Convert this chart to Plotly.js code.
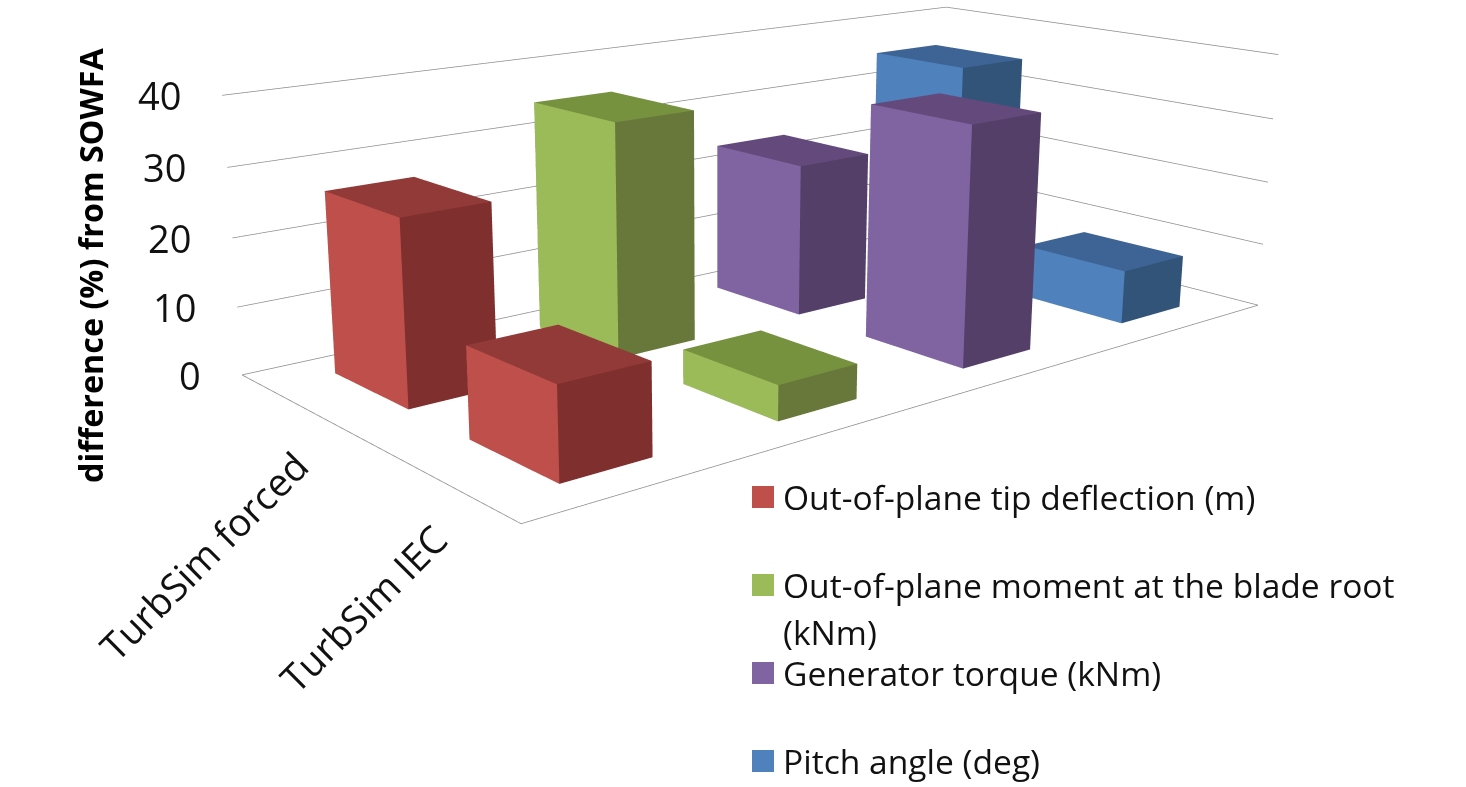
<!DOCTYPE html>
<html>
<head>
<meta charset="utf-8">
<script src="https://cdn.plot.ly/plotly-3.0.1.min.js"></script>
<style>
  html, body { margin: 0; padding: 0; background: #fff; overflow: hidden; width: 1466px; height: 787px; }
  /* The 45 degree scene camera needs a tall viewport, centred on the chart's optical axis. */
  #chart { position: absolute; left: 0; top: -508px; width: 1432px; height: 1616px; }
</style>
</head>
<body>
<div id="chart"></div>
<script>
// Categories run front to back along the depth axis
const categories = ['TurbSim IEC', 'TurbSim forced'];
const seriesNames = [
  'Out-of-plane tip deflection (m)',
  'Out-of-plane moment at the blade root<br>(kNm)',
  'Generator torque (kNm)',
  'Pitch angle (deg)'
];
const tipDeflection = [12.7, 26.5];
const bladeRootMoment = [5.05, 34.8];
const generatorTorque = [35.4, 23.65];
const pitchAngle = [8.3, 35.1];
const seriesValues = [tipDeflection, bladeRootMoment, generatorTorque, pitchAngle];
const valueTicks = [0, 10, 20, 30, 40];

// Face colours per series: left face, right face, top face
const leftFace = ['#BE4F4A', '#9BBB59', '#8064A2', '#4F81BD'];
const rightFace = ['#7F2F2E', '#67783A', '#533F68', '#325479'];
const topFace = ['#913A38', '#77923F', '#644A7C', '#3D6494'];

const barStart = 0.3, barEnd = 0.705;    // bar extent inside a series slot
const depthStart = 0.21, depthEnd = 0.78; // bar extent inside a category slot
const seriesCount = seriesValues.length;
const categoryCount = categories.length;
const valueMax = valueTicks[valueTicks.length - 1];

const traces = [];

// Wall and floor lines, drawn first so the bars hide them through depth testing
const gridX = [], gridY = [], gridZ = [];
valueTicks.forEach(v => {
  gridX.push(0, seriesCount, seriesCount, null);
  gridY.push(categoryCount, categoryCount, 0, null);
  gridZ.push(v, v, v, null);
});
gridX.push(0, 0, seriesCount);
gridY.push(categoryCount, 0, 0);
gridZ.push(0, 0, 0);
traces.push({
  type: 'scatter3d', mode: 'lines', x: gridX, y: gridY, z: gridZ,
  line: { color: '#8c8c8c', width: 1.5 }, connectgaps: false,
  hoverinfo: 'skip', showlegend: false
});

// One mesh per series, one box per category
seriesValues.forEach((values, s) => {
  const x = [], y = [], z = [], i = [], j = [], k = [], facecolor = [];
  values.forEach((v, c) => {
    const x0 = s + barStart, x1 = s + barEnd;
    const y0 = c + depthStart, y1 = c + depthEnd;
    const n = x.length;
    x.push(x0, x1, x1, x0, x0, x1, x1, x0);
    y.push(y0, y0, y1, y1, y0, y0, y1, y1);
    z.push(0, 0, 0, 0, v, v, v, v);
    const quad = (a, b, d, e, col) => {
      i.push(n + a, n + a); j.push(n + b, n + d); k.push(n + d, n + e);
      facecolor.push(col, col);
    };
    quad(0, 3, 7, 4, leftFace[s]);   // low-x side
    quad(0, 1, 5, 4, rightFace[s]);  // low-y side
    quad(4, 5, 6, 7, topFace[s]);    // top
    quad(1, 2, 6, 5, rightFace[s]);  // high-x side
    quad(3, 2, 6, 7, rightFace[s]);  // high-y side
    quad(0, 1, 2, 3, rightFace[s]);  // bottom
  });
  traces.push({
    type: 'mesh3d', name: seriesNames[s], x, y, z, i, j, k, facecolor,
    flatshading: true,
    lighting: { ambient: 1, diffuse: 0, specular: 0, roughness: 1, fresnel: 0 },
    hoverinfo: 'skip', showscale: false
  });
});

const textFont = '"Open Sans", Lato, sans-serif';
const W = 1432, H = 1616, topOffset = 508;
const px = v => v / W;
const py = v => 1 - (v + topOffset) / H;

// Value labels and category labels are anchored to the scene's own coordinates
const sceneAnnotations = [];
valueTicks.forEach(v => {
  sceneAnnotations.push({
    x: 0, y: categoryCount, z: v, text: String(v), showarrow: false,
    xanchor: 'right', yanchor: 'middle', xshift: -39, yshift: 0,
    font: { family: textFont, size: 38, color: '#111' }
  });
});
categories.forEach((name, c) => {
  sceneAnnotations.push({
    x: 0, y: c + 0.5, z: 0, text: name, showarrow: false, textangle: -45,
    xanchor: 'right', yanchor: 'top', xshift: 21, yshift: -30,
    font: { family: textFont, size: 38.3, color: '#111' }
  });
});

const axisOff = { visible: false, showgrid: false, zeroline: false, showspikes: false, showbackground: false };

// Legend and axis title sit in page space
const annotations = [{
  xref: 'paper', yref: 'paper', x: px(90), y: py(265), text: 'difference (%) from SOWFA',
  textangle: -90, showarrow: false, xanchor: 'center', yanchor: 'middle',
  font: { family: textFont, size: 32.3, color: '#000', weight: 700 }
}];
const shapes = [];
const legendTop = 497, legendStep = 88, lineStep = 47;
seriesNames.forEach((name, s) => {
  const cy = legendTop + legendStep * s;
  shapes.push({
    type: 'rect', xref: 'paper', yref: 'paper',
    x0: px(752), x1: px(774), y0: py(cy - 11), y1: py(cy + 11),
    fillcolor: leftFace[s], line: { width: 0 }
  });
  name.split('<br>').forEach((line, n) => {
    annotations.push({
      xref: 'paper', yref: 'paper', x: px(781), y: py(cy + n * lineStep), text: line,
      showarrow: false, xanchor: 'left', yanchor: 'middle',
      font: { family: textFont, size: 33.6, color: '#111' }
    });
  });
});

const layout = {
  width: W, height: H,
  margin: { l: 0, r: 0, t: 0, b: 0 },
  paper_bgcolor: '#fff',
  showlegend: false,
  annotations, shapes,
  scene: {
    domain: { x: [0, 1], y: [0, 1] },
    bgcolor: '#fff',
    aspectmode: 'manual',
    aspectratio: { x: 2, y: 1, z: 0.5688 },
    camera: {
      eye: { x: -2.636, y: -2.986, z: 0.953 },
      center: { x: -0.1376, y: 0.0458, z: -0.1847 },
      up: { x: 0, y: 0, z: 1 },
      projection: { type: 'perspective' }
    },
    xaxis: Object.assign({ range: [0, seriesCount] }, axisOff),
    yaxis: Object.assign({ range: [0, categoryCount] }, axisOff),
    zaxis: Object.assign({ range: [0, valueMax] }, axisOff),
    annotations: sceneAnnotations
  }
};

Plotly.newPlot('chart', traces, layout, { displayModeBar: false, responsive: false });
</script>
</body>
</html>
